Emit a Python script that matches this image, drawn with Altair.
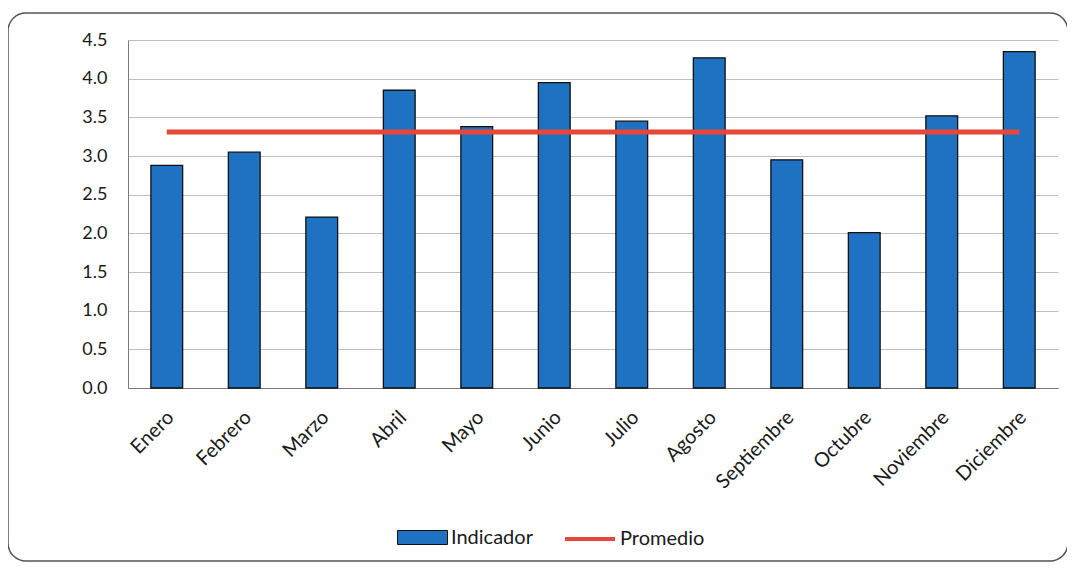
import altair as alt
import pandas as pd

meses = ["Enero", "Febrero", "Marzo", "Abril", "Mayo", "Junio", "Julio",
         "Agosto", "Septiembre", "Octubre", "Noviembre", "Diciembre"]
indicador = [2.88, 3.05, 2.21, 3.85, 3.38, 3.95, 3.45, 4.27, 2.95, 2.01, 3.52, 4.35]
promedio = [3.31] * 12

df = pd.DataFrame({"mes": meses, "Indicador": indicador, "Promedio": promedio,
                   "s1": ["Indicador"] * 12, "s2": ["Promedio"] * 12})

FONT = "Lato"
W, H = 930, 348

xax = alt.Axis(labelAngle=-45, labelFontSize=20, labelFont=FONT,
               labelColor="#1a1a1a", ticks=False, domainColor="#7a7a7a",
               labelPadding=19, labelOffset=-3, grid=False, labelOverlap=False)

yax = alt.Axis(values=[0, 0.5, 1, 1.5, 2, 2.5, 3, 3.5, 4, 4.5], format=".1f",
               labelFontSize=18, labelFont=FONT, labelColor="#1a1a1a",
               ticks=False, domainColor="#7a7a7a", gridColor="#bdbdbd",
               labelPadding=21, labelOverlap=False, grid=True)

xs = alt.Scale(paddingInner=0, paddingOuter=0)
ys = alt.Scale(domain=[0, 4.5])

bars = alt.Chart(df).mark_bar(width=alt.RelativeBandSize(0.41), stroke="#111111",
                              strokeWidth=1.3).encode(
    x=alt.X("mes:N", sort=meses, title=None, scale=xs, axis=xax),
    y=alt.Y("Indicador:Q", title=None, scale=ys, axis=yax),
    fill=alt.Fill("s1:N", title=None,
                  scale=alt.Scale(domain=["Indicador"], range=["#1f71c1"]),
                  legend=alt.Legend(orient="none", legendX=269, legendY=472,
                                    symbolType="M-1,-0.28H1V0.28H-1Z",
                                    symbolSize=2500, symbolStrokeColor="#111111",
                                    symbolStrokeWidth=1, labelFontSize=20,
                                    labelFont=FONT, labelColor="#1a1a1a",
                                    symbolFillColor="#1f71c1", labelOffset=3)),
)

line = alt.Chart(df).mark_line(strokeWidth=5).encode(
    x=alt.X("mes:N", sort=meses, title=None, scale=xs, axis=xax),
    y=alt.Y("Promedio:Q", title=None, scale=ys, axis=yax),
    stroke=alt.Stroke("s2:N", title=None,
                      scale=alt.Scale(domain=["Promedio"], range=["#e5473b"]),
                      legend=alt.Legend(orient="none", legendX=435, legendY=472,
                                        symbolType="stroke",
                                        symbolSize=2500, symbolStrokeWidth=4,
                                        labelFontSize=20, labelFont=FONT,
                                        labelColor="#1a1a1a", labelOffset=3)),
)

frame = alt.Chart(pd.DataFrame({"a": [0]})).mark_rect(
    fill=None, stroke="#555555", strokeWidth=1.5, cornerRadius=18, clip=False
).encode(x=alt.value(-120), x2=alt.value(940), y=alt.value(-27), y2=alt.value(521))

chart = alt.layer(frame, bars, line).properties(
    width=W, height=H,
    padding={"left": 120, "top": 32, "right": 9, "bottom": 175},
    autosize=alt.AutoSizeParams(type="none"),
).configure_view(stroke=None)

chart.save("out.html", embed_options={"renderer": "svg", "actions": False})
